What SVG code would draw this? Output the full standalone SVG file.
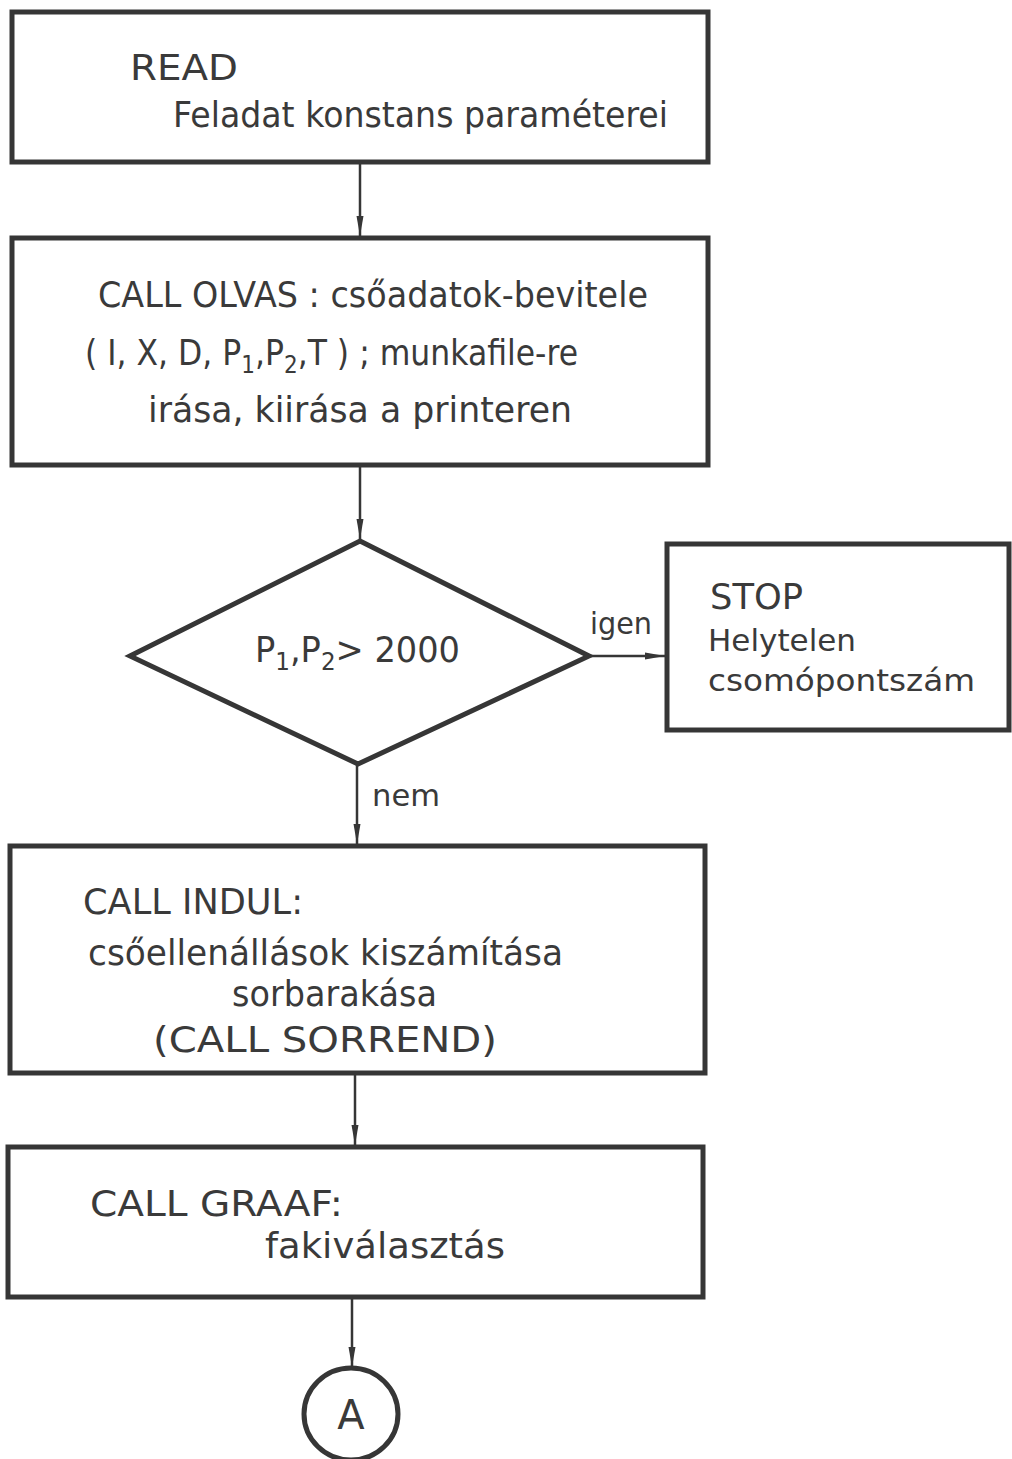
<svg xmlns="http://www.w3.org/2000/svg" width="1012" height="1459" viewBox="0 0 1012 1459">
  <style>
    .box { fill: none; stroke: #363636; stroke-width: 5; stroke-linejoin: miter; }
    .lbl { font-family: "DejaVu Sans", "Liberation Sans", sans-serif; fill: #3a3a3a; font-size: 35px; }
    .sm { font-size: 31px; }
    .sub { font-size: 24px; }
    .big { font-size: 40px; }
    .conn { stroke: #363636; stroke-width: 2.5; fill: none; }
  </style>
  <defs>
    <marker id="arrow" viewBox="0 0 20 10" refX="20" refY="5" markerWidth="20" markerHeight="10" markerUnits="userSpaceOnUse" orient="auto">
      <path d="M0,1.5 L20,5 L0,8.5 Z" fill="#363636"/>
    </marker>
  </defs>
  <rect width="1012" height="1459" fill="#ffffff"/>

  <g id="connectors">
    <line class="conn" x1="360" y1="162" x2="360" y2="236" marker-end="url(#arrow)"/>
    <line class="conn" x1="360" y1="465" x2="360" y2="539" marker-end="url(#arrow)"/>
    <line class="conn" x1="589" y1="656" x2="665" y2="656" marker-end="url(#arrow)"/>
    <line class="conn" x1="357" y1="764" x2="357" y2="844" marker-end="url(#arrow)"/>
    <line class="conn" x1="355" y1="1073" x2="355" y2="1145" marker-end="url(#arrow)"/>
    <line class="conn" x1="352" y1="1297" x2="352" y2="1367" marker-end="url(#arrow)"/>
    <text class="lbl sm" x="590" y="634" textLength="62" lengthAdjust="spacingAndGlyphs">igen</text>
    <text class="lbl sm" x="372" y="806" textLength="68" lengthAdjust="spacingAndGlyphs">nem</text>
  </g>

  <g id="read">
    <rect class="box" x="12" y="12" width="696" height="150"/>
    <text class="lbl" x="130" y="80" textLength="108" lengthAdjust="spacingAndGlyphs">READ</text>
    <text class="lbl" x="173" y="127" textLength="495" lengthAdjust="spacingAndGlyphs">Feladat konstans paraméterei</text>
  </g>

  <g id="olvas">
    <rect class="box" x="12" y="238" width="696" height="227"/>
    <text class="lbl" x="98" y="307" textLength="550" lengthAdjust="spacingAndGlyphs">CALL OLVAS : csőadatok-bevitele</text>
    <text class="lbl" x="85" y="365" textLength="493" lengthAdjust="spacingAndGlyphs">( I, X, D,  P<tspan class="sub" dy="8">1</tspan><tspan dy="-8">,P</tspan><tspan class="sub" dy="8">2</tspan><tspan dy="-8">,T ) ; munkafile-re</tspan></text>
    <text class="lbl" x="148" y="422" textLength="424" lengthAdjust="spacingAndGlyphs">irása, kiirása  a printeren</text>
  </g>

  <g id="check">
    <polygon class="box" points="360,541 589,656 358,764 130,656"/>
    <text class="lbl" x="255" y="662" textLength="205" lengthAdjust="spacingAndGlyphs">P<tspan class="sub" dy="8">1</tspan><tspan dy="-8">,P</tspan><tspan class="sub" dy="8">2</tspan><tspan dy="-8">&gt; 2000</tspan></text>
  </g>

  <g id="stop">
    <rect class="box" x="667" y="544" width="342" height="186"/>
    <text class="lbl" x="710" y="609" textLength="93" lengthAdjust="spacingAndGlyphs">STOP</text>
    <text class="lbl sm" x="708" y="651" textLength="148" lengthAdjust="spacingAndGlyphs">Helytelen</text>
    <text class="lbl sm" x="708" y="691" textLength="267" lengthAdjust="spacingAndGlyphs">csomópontszám</text>
  </g>

  <g id="indul">
    <rect class="box" x="10" y="846" width="695" height="227"/>
    <text class="lbl" x="83" y="914" textLength="220" lengthAdjust="spacingAndGlyphs">CALL INDUL:</text>
    <text class="lbl" x="88" y="965" textLength="475" lengthAdjust="spacingAndGlyphs">csőellenállások kiszámítása</text>
    <text class="lbl" x="232" y="1006" textLength="205" lengthAdjust="spacingAndGlyphs">sorbarakása</text>
    <text class="lbl" x="153" y="1052" textLength="344" lengthAdjust="spacingAndGlyphs">(CALL SORREND)</text>
  </g>

  <g id="graaf">
    <rect class="box" x="8" y="1147" width="695" height="150"/>
    <text class="lbl" x="90" y="1216" textLength="253" lengthAdjust="spacingAndGlyphs">CALL GRAAF:</text>
    <text class="lbl" x="265" y="1258" textLength="240" lengthAdjust="spacingAndGlyphs">fakiválasztás</text>
  </g>

  <g id="connector-a">
    <ellipse class="box" cx="351" cy="1414" rx="47" ry="46"/>
    <text class="lbl big" x="351" y="1429" text-anchor="middle">A</text>
  </g>
</svg>
